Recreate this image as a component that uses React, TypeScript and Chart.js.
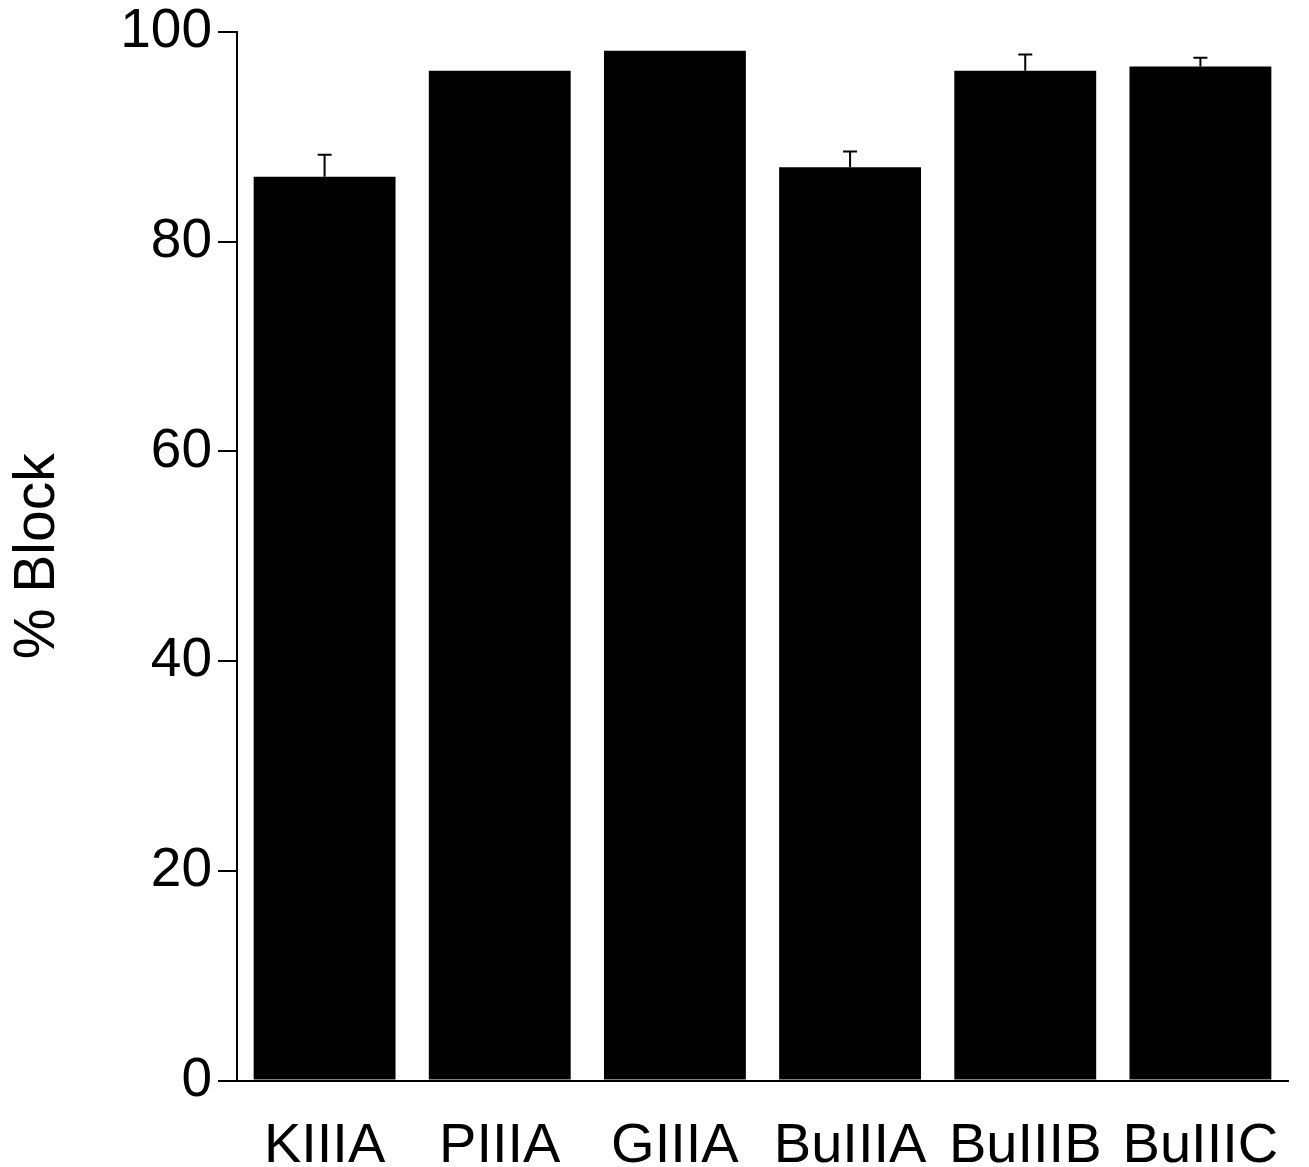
import React, { useEffect, useRef } from "react";
import { Chart, registerables } from "chart.js";

Chart.register(...registerables);

const categories = ["KIIIA", "PIIIA", "GIIIA", "BuIIIA", "BuIIIB", "BuIIIC"];
const blockValues = [86.2, 96.3, 98.2, 87.1, 96.3, 96.7];
const blockErrors = [2.1, 0, 0, 1.5, 1.55, 0.85];
const yTicks = [0, 20, 40, 60, 80, 100];

const FONT = "'Liberation Sans', Arial, sans-serif";

const errorBarPlugin = {
  id: "errorBars",
  afterDatasetsDraw(chart: any) {
    const ctx = chart.ctx;
    const meta = chart.getDatasetMeta(0);
    const y = chart.scales.y;
    ctx.save();
    ctx.strokeStyle = "#000";
    ctx.lineWidth = 2;
    meta.data.forEach((bar: any, i: number) => {
      const err = blockErrors[i];
      if (!err) return;
      const x = bar.x;
      const top = y.getPixelForValue(blockValues[i] + err);
      const base = y.getPixelForValue(blockValues[i]);
      ctx.beginPath();
      ctx.moveTo(x, base);
      ctx.lineTo(x, top);
      ctx.moveTo(x - 7, top);
      ctx.lineTo(x + 7, top);
      ctx.stroke();
    });
    ctx.restore();
  },
};

export default function App() {
  const ref = useRef<HTMLCanvasElement | null>(null);
  useEffect(() => {
    if (!ref.current) return;
    const chart = new Chart(ref.current, {
      type: "bar",
      data: {
        labels: categories,
        datasets: [
          {
            data: blockValues,
            backgroundColor: "#000",
            borderWidth: 0,
            barPercentage: 0.81,
            categoryPercentage: 1,
          },
        ],
      },
      options: {
        animation: false,
        responsive: false,
        maintainAspectRatio: false,
        layout: { padding: { top: 32, right: 21, bottom: 0, left: 0 } },
        plugins: { legend: { display: false }, tooltip: { enabled: false } },
        scales: {
          x: {
            grid: { display: false },
            border: { display: true, color: "#000", width: 2 },
            ticks: {
              color: "#000",
              font: { family: FONT, size: 56 },
              padding: 24,
              maxRotation: 0,
              autoSkip: false,
            },
            afterFit: (s: any) => {
              s.height = 86.5;
              s.paddingLeft = 0;
              s.paddingRight = 0;
            },
          },
          y: {
            min: 0,
            max: 100,
            afterBuildTicks: (s: any) => {
              s.ticks = yTicks.map((v) => ({ value: v }));
            },
            grid: {
              display: true,
              drawOnChartArea: false,
              drawTicks: true,
              tickLength: 19,
              color: "#000",
              lineWidth: 2,
            },
            border: { display: true, color: "#000", width: 2 },
            ticks: {
              color: "#000",
              font: { family: FONT, size: 55 },
              padding: 6,
            },
            title: {
              display: true,
              text: "% Block",
              color: "#000",
              font: { family: FONT, size: 57 },
              padding: { top: 4, bottom: 0 },
            },
            afterFit: (s: any) => {
              s.width = 237;
              s.paddingTop = 0;
              s.paddingBottom = 0;
            },
          },
        },
      },
      plugins: [errorBarPlugin],
    });
    return () => chart.destroy();
  }, []);
  return (
    <div style={{ position: "fixed", left: 0, top: 0, width: 1309, height: 1167, background: "#fff" }}>
      <canvas ref={ref} width={1309} height={1167} style={{ width: 1309, height: 1167 }} />
    </div>
  );
}
